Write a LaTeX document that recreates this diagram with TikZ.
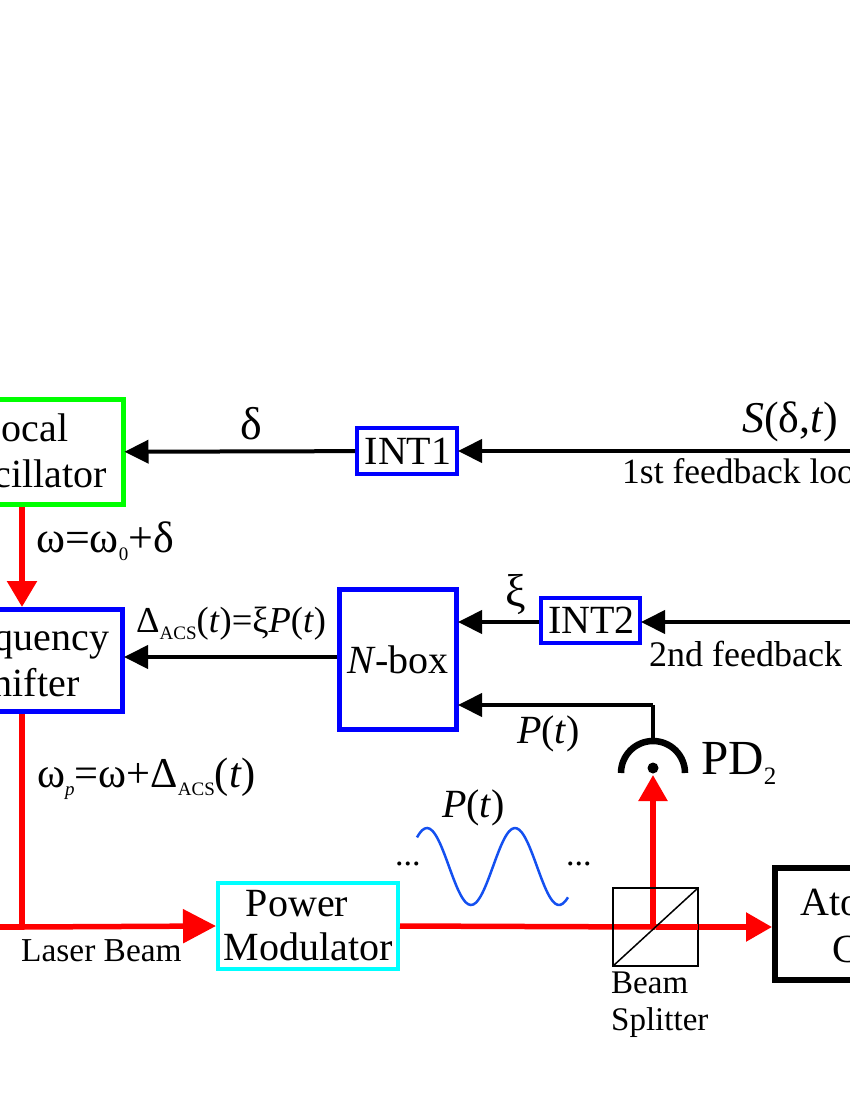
\documentclass[tikz,border=0pt]{standalone}
\usepackage{fontspec}
\setmainfont{Liberation Serif}
\usetikzlibrary{arrows.meta,positioning}
\definecolor{modcyan}{RGB}{0,255,255}
\definecolor{wave}{RGB}{20,80,240}
\newcommand{\fs}[1]{\fontsize{#1}{#1}\selectfont}
\newcommand{\lowsub}[2][8pt]{\raisebox{-#1}{\fs{19}#2}}

\begin{document}
\begin{tikzpicture}[
        x=1pt, y=-1pt,
        box/.style={rectangle, draw, inner sep=0pt, align=center, font=\fontsize{40}{46}\selectfont},
        blackarrow/.style={-{Triangle[length=24pt,width=23pt]}, line width=4pt, shorten >=-1pt},
        beam/.style={red, line width=5.5pt},
        beamarrow/.style={beam, -{Triangle[length=26pt,width=28pt]}},
        txt/.style={anchor=base west, inner sep=0pt}
    ]
        \clip (0,0) rectangle (850,1100);

        % Boxes
        \node[box, draw=green, line width=5pt, minimum width=190pt, minimum height=105pt] (osc) at (28,452) {\raisebox{2pt}{\hspace*{-10pt}Local} \\ \raisebox{2pt}{Oscillator}};
        \node[box, draw=blue, line width=5pt, minimum width=195pt, minimum height=102pt] (shifter) at (25,660.5) {Frequency \\ Shifter};
        \node[box, draw=blue, line width=5pt, minimum width=117pt, minimum height=140pt] (nbox) at (398,659.5) {\textit{N}-box};
        \node[box, draw=blue, line width=4pt, minimum width=100pt, minimum height=46pt] (int1) at (407,451) {\hspace*{2pt}\fs{40}INT1};
        \node[box, draw=blue, line width=4pt, minimum width=99pt, minimum height=45pt] (int2) at (590.5,620.5) {\hspace*{2pt}\fs{40}INT2};
        \node[box, draw=modcyan, line width=4pt, minimum width=180pt, minimum height=86pt, font=\fontsize{40}{44}\selectfont] (mod) at (308,926) {\raisebox{-2pt}{\hspace*{-22pt}Power} \\ \raisebox{-2pt}{Modulator}};
        \node[box, draw=black, line width=6pt, minimum width=160pt, minimum height=112pt] (clock) at (855,924) {};
        \node[rectangle, draw, line width=1.5pt, minimum width=84pt, minimum height=77pt, inner sep=0pt] (bs) at (655.5,927) {};
        \node[txt, font=\fs{40}] (atomtxt) at (800,915) {Atomic};
        \node[txt, font=\fs{40}] (clocktxt) at (832,962) {Clock};

        % Free ends
        \coordinate (s1) at (860,451);
        \coordinate (s2) at (860,622);
        \coordinate (start) at (-10,927);
        \coordinate (corner) at (653,705);
        \coordinate (turn) at (22,927);
        \coordinate (pdtop) at (653,741);
        \coordinate (pdin) at (653,775);

        % Detector
        \node[circle, fill=black, inner sep=0pt, minimum size=11pt] (pd) at (653,768) {};
        \draw[line width=6.5pt] (621,773) arc[start angle=180, end angle=0, radius=32pt];

        % Beams
        \draw[beam] (start) -- (turn);
        \draw[beam] ([xshift=-3pt]shifter.south) -- (turn);
        \draw[beam, -{Triangle[length=33pt,width=33pt]}] (turn) -- (mod.west);
        \draw[beam] (mod.east) -- (bs.center);
        \draw[beamarrow] (bs.center) -- (clock.west |- bs.center);
        \draw[beamarrow] (pd.south |- bs.center) -- (pdin);
        \draw[beam, -{Triangle[length=26pt,width=29pt]}] ([xshift=-6pt]osc.south) -- ([xshift=-3pt]shifter.north);

        % Splitter is drawn over the beam
        \draw[line width=1.5pt] (bs.south west) -- (bs.north east);
        \draw[line width=1.5pt] (bs.south west) rectangle (bs.north east);

        % Signals
        \draw[blackarrow] (int1) -- (osc);
        \draw[blackarrow] (s1) -- (int1);
        \draw[blackarrow] (s2) -- (int2.east |- s2);
        \draw[blackarrow] (int2.west |- s2) -- (nbox.east |- s2);
        \draw[blackarrow] (nbox.west |- 0,657) -- (shifter.east |- 0,657);
        \draw[line width=4pt] (pdtop) -- (corner);
        \draw[blackarrow] (corner) -- (nbox.east |- corner);

        % Wave
        \draw[wave, line width=2.5pt, smooth, samples=60, domain=417:568]
            plot (\x, {866.5-38.5*cos((\x-427)/88*360)});

        % Labels
        \node[txt, font=\fs{46}] (delta) at (240,439) {δ};
        \node[txt, font=\fs{44}] (sig) at (742,432) {\textit{S}(δ,\textit{t})};
        \node[txt, font=\fs{35.5}] (loop1) at (622,483) {1st feedback loop};
        \node[txt, font=\fs{36}] (loop2) at (649,666) {2nd feedback};
        \node[txt, font=\fs{46}] (xi) at (505,606) {ξ};
        \node[txt, font=\fs{44}] (omega) at (36,552) {ω=ω\lowsub{0}+δ};
        \node[txt, font=\fs{36.5}] (acs) at (136,632) {Δ\lowsub[7pt]{ACS}(\textit{t})=ξ\textit{P}(\textit{t})};
        \node[txt, font=\fs{42.5}] (omegap) at (37,787) {ω\lowsub{\textit{p}}=ω+Δ\lowsub{ACS}(\textit{t})};
        \node[txt, font=\fs{40}] (pt1) at (517,743) {\textit{P}(\textit{t})};
        \node[txt, font=\fs{40}] (pt2) at (442,817) {\textit{P}(\textit{t})};
        \node[txt, font=\fs{49}] (pdtxt) at (701,774) {PD\lowsub[10pt]{\fs{25}2}};
        \node[txt, font=\fs{33.4}] (laser) at (21,961) {Laser Beam};
        \node[txt, font=\fs{33}] (bstxt1) at (611,993) {Beam};
        \node[txt, font=\fs{33}] (bstxt2) at (611,1030) {Splitter};
        \node[txt, font=\fs{34}] (dots1) at (395,865) {...};
        \node[txt, font=\fs{34}] (dots2) at (566,865) {...};

    \end{tikzpicture}
\end{document}
